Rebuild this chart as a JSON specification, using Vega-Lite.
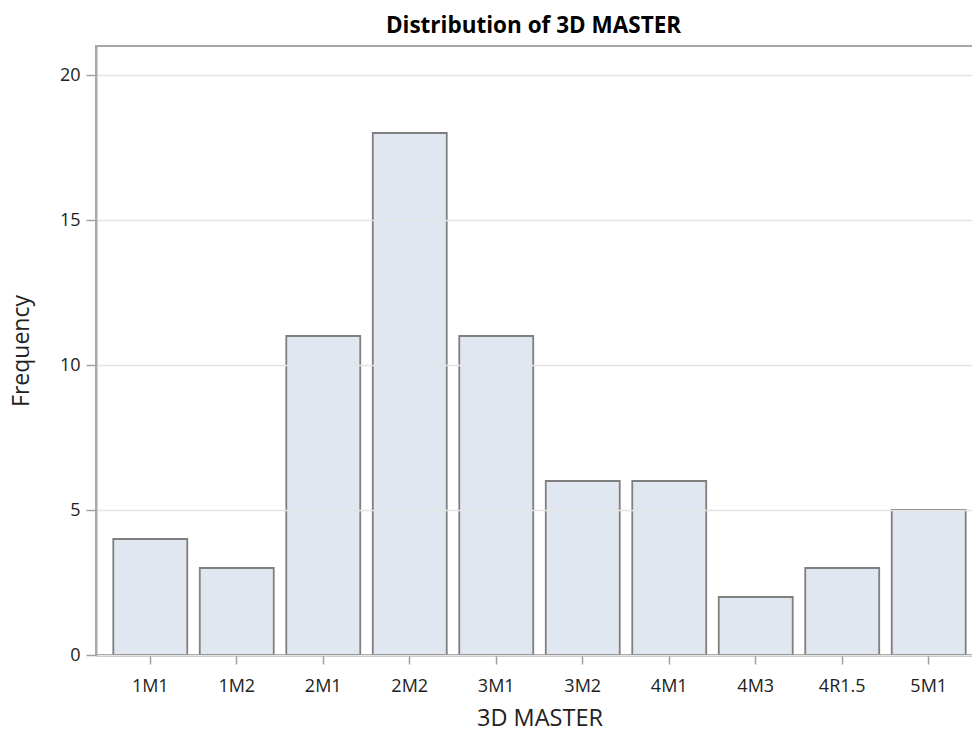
{
  "$schema": "https://vega.github.io/schema/vega-lite/v6.json",
  "autosize": {"type": "none"},
  "padding": {"left": 96, "top": 46, "right": 0, "bottom": 78},
  "width": 887,
  "height": 609,
  "background": "white",
  "title": {
    "text": "Distribution of 3D MASTER",
    "font": "Open Sans",
    "fontSize": 22.5,
    "fontWeight": "bold",
    "color": "#000000",
    "anchor": "middle",
    "offset": 9,
    "dx": -6
  },
  "data": {
    "values": [
      {"code": "1M1", "count": 4},
      {"code": "1M2", "count": 3},
      {"code": "2M1", "count": 11},
      {"code": "2M2", "count": 18},
      {"code": "3M1", "count": 11},
      {"code": "3M2", "count": 6},
      {"code": "4M1", "count": 6},
      {"code": "4M3", "count": 2},
      {"code": "4R1.5", "count": 3},
      {"code": "5M1", "count": 5}
    ]
  },
  "mark": {
    "type": "bar",
    "fill": "#E1E7F0",
    "stroke": "#7F7F7F",
    "strokeWidth": 1.8
  },
  "encoding": {
    "x": {
      "field": "code",
      "type": "nominal",
      "sort": null,
      "scale": {"paddingInner": 0.145, "paddingOuter": 0.2},
      "axis": {
        "title": "3D MASTER",
        "labelAngle": 0,
        "labelFont": "Open Sans",
        "labelFontSize": 18,
        "labelColor": "#222222",
        "labelPadding": 13,
        "titleFont": "Open Sans",
        "titleFontSize": 23.5,
        "titleFontWeight": "normal",
        "titleColor": "#222222",
        "titlePadding": 11,
        "domainColor": "#8C8C8C",
        "domainWidth": 2,
        "tickColor": "#A0A0A0",
        "tickWidth": 1.5,
        "tickSize": 9,
        "grid": false
      }
    },
    "y": {
      "field": "count",
      "type": "quantitative",
      "scale": {"domain": [0, 21], "nice": false},
      "axis": {
        "title": "Frequency",
        "values": [0, 5, 10, 15, 20],
        "labelFont": "Open Sans",
        "labelFontSize": 18,
        "labelColor": "#222222",
        "labelPadding": 6,
        "titleFont": "Open Sans",
        "titleFontSize": 23,
        "titleFontWeight": "normal",
        "titleColor": "#222222",
        "titlePadding": 26,
        "domainColor": "#A8A8A8",
        "domainWidth": 2,
        "tickColor": "#A0A0A0",
        "tickWidth": 1.5,
        "tickSize": 10,
        "grid": true,
        "gridColor": "#E4E4E4",
        "gridWidth": 1.5,
        "zindex": 1
      }
    }
  },
  "config": {
    "view": {"stroke": "#A8A8A8", "strokeWidth": 2}
  }
}
